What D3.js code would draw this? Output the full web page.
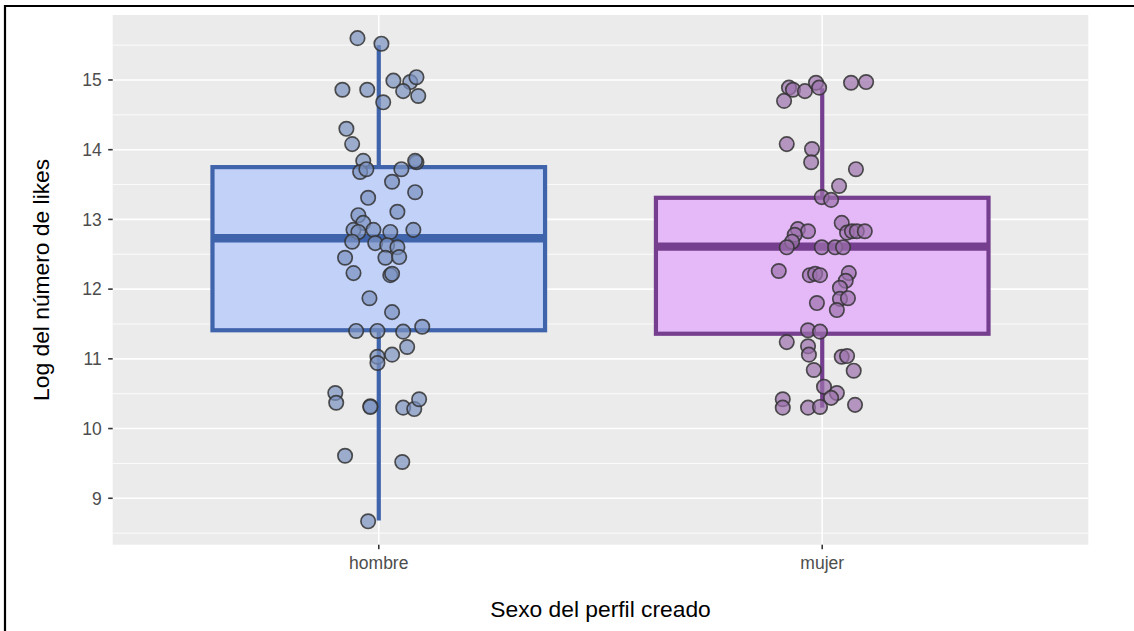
<!DOCTYPE html>
<html>
<head>
<meta charset="utf-8">
<script src="https://cdn.jsdelivr.net/npm/d3@7"></script>
<style>
  html, body { margin: 0; padding: 0; background: #ffffff; }
  svg { display: block; }
</style>
</head>
<body>
<svg id="chart" width="1134" height="631"></svg>
<script>
// Categories and axis ticks
const categories = ["hombre", "mujer"];
const yTicks = [9, 10, 11, 12, 13, 14, 15];

// Box statistics per category: [lower whisker, Q1, median, Q3, upper whisker]
const boxHombre = [8.68, 11.41, 12.73, 13.75, 15.50];
const boxMujer  = [10.30, 11.36, 12.61, 13.31, 14.88];

// Individual observations: [horizontal jitter (category units), log likes]
const puntosHombre = [
  [-0.048, 15.60], [0.006, 15.52], [0.033, 14.99], [0.071, 14.97], [0.085, 15.04],
  [0.055, 14.84], [0.089, 14.77], [-0.082, 14.86], [-0.026, 14.86], [0.010, 14.68],
  [-0.073, 14.30], [-0.060, 14.08], [-0.035, 13.84], [-0.042, 13.68], [-0.028, 13.72],
  [0.051, 13.72], [0.085, 13.82], [0.082, 13.84], [0.030, 13.54], [0.082, 13.39],
  [-0.024, 13.31], [-0.046, 13.06], [0.042, 13.11], [-0.035, 12.95], [-0.057, 12.85],
  [-0.046, 12.82], [-0.012, 12.85], [0.026, 12.82], [0.078, 12.85], [-0.060, 12.68],
  [-0.008, 12.66], [0.019, 12.63], [0.042, 12.60], [-0.076, 12.45], [0.015, 12.45],
  [0.046, 12.46], [-0.057, 12.23], [0.026, 12.20], [0.030, 12.22], [-0.021, 11.87],
  [0.030, 11.67], [-0.051, 11.40], [-0.003, 11.40], [0.055, 11.39], [0.098, 11.46],
  [0.064, 11.17], [-0.003, 11.03], [0.030, 11.06], [-0.003, 10.94], [-0.098, 10.51],
  [-0.096, 10.37], [-0.019, 10.32], [-0.019, 10.31], [0.055, 10.30], [0.080, 10.28],
  [0.091, 10.42], [-0.076, 9.61], [0.053, 9.52], [-0.024, 8.67]
];
const puntosMujer = [
  [-0.075, 14.89], [-0.066, 14.86], [-0.039, 14.84], [-0.014, 14.96], [-0.007, 14.89],
  [-0.086, 14.70], [0.065, 14.96], [0.099, 14.97], [-0.080, 14.08], [-0.023, 14.01],
  [-0.025, 13.82], [0.076, 13.72], [0.038, 13.48], [-0.001, 13.32], [0.020, 13.28],
  [0.044, 12.95], [-0.055, 12.86], [-0.032, 12.83], [-0.062, 12.78], [-0.068, 12.68],
  [-0.080, 12.60], [-0.001, 12.60], [0.029, 12.60], [0.047, 12.60], [0.056, 12.81],
  [0.067, 12.83], [0.078, 12.83], [0.096, 12.83], [-0.098, 12.26], [-0.028, 12.20],
  [-0.016, 12.22], [-0.005, 12.20], [0.060, 12.23], [0.053, 12.12], [0.040, 12.02],
  [0.040, 11.86], [0.058, 11.87], [-0.012, 11.80], [0.033, 11.70], [-0.032, 11.41],
  [-0.005, 11.39], [-0.080, 11.24], [-0.032, 11.18], [-0.030, 11.06], [0.044, 11.03],
  [0.056, 11.04], [-0.019, 10.84], [0.071, 10.83], [0.004, 10.60], [0.033, 10.51],
  [0.020, 10.44], [-0.089, 10.42], [-0.089, 10.30], [-0.032, 10.30], [-0.005, 10.31],
  [0.074, 10.34]
];

const grupos = [
  { name: "hombre", box: boxHombre, pts: puntosHombre,
    fill: "#c1d1f8", stroke: "#3f64ac", ptFill: "rgb(122,145,192)" },
  { name: "mujer", box: boxMujer, pts: puntosMujer,
    fill: "#e5b9f8", stroke: "#763e8e", ptFill: "rgb(155,112,172)" }
];

const FONT = "Liberation Sans, Arial, Helvetica, sans-serif";
const svg = d3.select("#chart");
const W = 1134, H = 631;
const panel = { left: 112.7, top: 15, right: 1088.3, bottom: 544.7 };

// Continuous y scale with ggplot-style 5% padding
const y = d3.scaleLinear().domain([8.334, 15.932]).range([panel.bottom, panel.top]);
// Discrete x positions (1, 2) with 0.6 expansion on each side
const x = d3.scaleLinear().domain([0.4, 2.6]).range([panel.left, panel.right]);
const xPos = name => x(categories.indexOf(name) + 1);
const unit = x(1) - x(0);

// Outer frame
svg.append("rect").attr("x", 0).attr("y", 0).attr("width", W).attr("height", H).attr("fill", "#fff");
svg.append("path")
  .attr("d", `M5,${H + 2} L5,6 L${W + 2},6`)
  .attr("fill", "none").attr("stroke", "#000").attr("stroke-width", 2.2);

// Panel background
svg.append("rect")
  .attr("x", panel.left).attr("y", panel.top)
  .attr("width", panel.right - panel.left).attr("height", panel.bottom - panel.top)
  .attr("fill", "#ebebeb");

const grid = svg.append("g");
// Minor horizontal grid
const minor = d3.range(8.5, 16, 1).filter(v => y(v) > panel.top && y(v) < panel.bottom);
grid.selectAll(".minor").data(minor).join("line")
  .attr("x1", panel.left).attr("x2", panel.right)
  .attr("y1", d => y(d)).attr("y2", d => y(d))
  .attr("stroke", "#fff").attr("stroke-width", 0.8);
// Major horizontal grid
grid.selectAll(".major").data(yTicks).join("line")
  .attr("x1", panel.left).attr("x2", panel.right)
  .attr("y1", d => y(d)).attr("y2", d => y(d))
  .attr("stroke", "#fff").attr("stroke-width", 1.6);
// Vertical grid at categories
grid.selectAll(".vmajor").data(categories).join("line")
  .attr("x1", d => xPos(d)).attr("x2", d => xPos(d))
  .attr("y1", panel.top).attr("y2", panel.bottom)
  .attr("stroke", "#fff").attr("stroke-width", 1.6);

// Boxplots
const bw = 0.75 * unit;
grupos.forEach(g => {
  const cx = xPos(g.name);
  const [lo, q1, med, q3, hi] = g.box;
  const gb = svg.append("g");
  gb.append("line").attr("x1", cx).attr("x2", cx).attr("y1", y(q3)).attr("y2", y(hi))
    .attr("stroke", g.stroke).attr("stroke-width", 4.2);
  gb.append("line").attr("x1", cx).attr("x2", cx).attr("y1", y(q1)).attr("y2", y(lo))
    .attr("stroke", g.stroke).attr("stroke-width", 4.2);
  gb.append("rect")
    .attr("x", cx - bw / 2).attr("y", y(q3))
    .attr("width", bw).attr("height", y(q1) - y(q3))
    .attr("fill", g.fill).attr("stroke", g.stroke).attr("stroke-width", 4.2);
  gb.append("line").attr("x1", cx - bw / 2).attr("x2", cx + bw / 2)
    .attr("y1", y(med)).attr("y2", y(med))
    .attr("stroke", g.stroke).attr("stroke-width", 8.4);
});

// Jittered points
grupos.forEach(g => {
  const base = categories.indexOf(g.name) + 1;
  svg.append("g").selectAll("circle").data(g.pts).join("circle")
    .attr("cx", d => x(base + d[0]))
    .attr("cy", d => y(d[1]))
    .attr("r", 7.2)
    .attr("fill", g.ptFill).attr("fill-opacity", 0.7)
    .attr("stroke", "#333").attr("stroke-opacity", 0.85).attr("stroke-width", 1.7);
});

// Y axis ticks and labels
const yAxis = svg.append("g");
yAxis.selectAll("line").data(yTicks).join("line")
  .attr("x1", panel.left - 4.5).attr("x2", panel.left)
  .attr("y1", d => y(d)).attr("y2", d => y(d))
  .attr("stroke", "#333").attr("stroke-width", 1.6);
yAxis.selectAll("text").data(yTicks).join("text")
  .attr("x", 101.7).attr("y", d => y(d))
  .attr("dy", "0.36em").attr("text-anchor", "end")
  .attr("font-family", FONT).attr("font-size", 17.5)
  .attr("fill", "#4d4d4d").text(d => d);

// X axis ticks and labels
const xAxis = svg.append("g");
xAxis.selectAll("line").data(categories).join("line")
  .attr("x1", d => xPos(d)).attr("x2", d => xPos(d))
  .attr("y1", panel.bottom).attr("y2", panel.bottom + 4.5)
  .attr("stroke", "#333").attr("stroke-width", 1.6);
xAxis.selectAll("text").data(categories).join("text")
  .attr("x", d => xPos(d)).attr("y", 569)
  .attr("text-anchor", "middle")
  .attr("font-family", FONT).attr("font-size", 17.5)
  .attr("fill", "#4d4d4d").text(d => d);

// Axis titles
svg.append("text")
  .attr("x", (panel.left + panel.right) / 2).attr("y", 617)
  .attr("text-anchor", "middle")
  .attr("font-family", FONT).attr("font-size", 22.8)
  .attr("fill", "#000").text("Sexo del perfil creado");
svg.append("text")
  .attr("transform", `translate(48.5, ${(panel.top + panel.bottom) / 2}) rotate(-90)`)
  .attr("text-anchor", "middle")
  .attr("font-family", FONT).attr("font-size", 22.8)
  .attr("fill", "#000").text("Log del número de likes");
</script>
</body>
</html>
